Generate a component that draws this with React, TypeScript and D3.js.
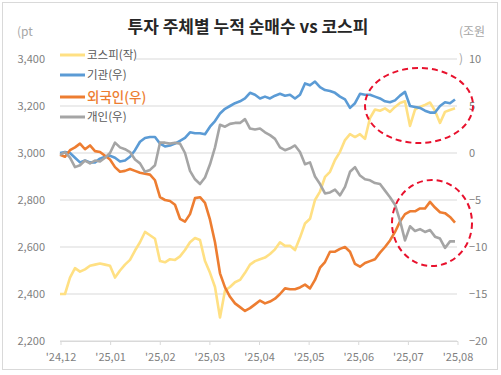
import React from 'react';
import * as d3 from 'd3';

const months = ["'24,12", "'25,01", "'25,02", "'25,03", "'25,04", "'25,05", "'25,06", "'25,07", "'25,08"];
const leftTicks = [2200, 2400, 2600, 2800, 3000, 3200, 3400];
const rightTicks = [-20, -15, -10, -5, 0, 5, 10];

const seriesNames = ['코스피(작)', '기관(우)', '외국인(우)', '개인(우)'];

const kospi = [
  2400, 2400, 2470, 2510, 2495, 2505, 2520, 2525, 2530, 2525,
  2520, 2470, 2500, 2525, 2545, 2585, 2620, 2664, 2650, 2635,
  2540, 2535, 2548, 2545, 2560, 2587, 2620, 2638, 2630, 2540,
  2490, 2430, 2300, 2415, 2430, 2450, 2460, 2490, 2525, 2540,
  2548, 2555, 2570, 2590, 2620, 2605, 2605, 2587, 2640, 2700,
  2720, 2800, 2836, 2898, 2920, 2970, 3005, 3055, 3080, 3068,
  3080, 3060, 3149, 3185, 3180, 3190, 3175, 3196, 3213, 3220,
  3115, 3185, 3196, 3205, 3215, 3180, 3128, 3175, 3183, 3190,
];

const institution = [
  0, 0.1, 0, -0.5, -1.0, -0.8, -1.0, -1.0, -0.6, -0.4,
  -0.3, -0.5, -0.9, -0.8, -0.4, 0.3, 1.2, 1.6, 1.7, 1.7,
  1.0, 0.7, 0.8, 1.0, 1.3, 1.6, 2.2, 2.1, 2.1, 2.0,
  2.8, 3.4, 4.2, 4.7, 5.0, 5.3, 5.5, 5.8, 6.4, 6.2,
  5.8, 6.0, 5.8, 6.1, 6.3, 6.1, 6.2, 5.8, 6.2, 7.4,
  7.2, 7.6, 7.0, 6.7, 6.6, 6.4, 6.0, 5.7, 4.8, 5.3,
  6.3, 6.2, 6.2, 6.0, 5.8, 5.5, 5.4, 5.6, 6.1, 6.5,
  5.0, 4.9, 4.8, 4.5, 4.3, 4.3, 5.0, 5.4, 5.3, 5.7,
];

const foreigner = [
  -0.2, -0.4, 0.3, 0.6, 1.0, 0.4, 0.8, 0.2, 0.1, -0.3,
  -0.7, -1.5, -2.0, -1.9, -1.7, -1.9, -2.1, -2.2, -2.3, -2.9,
  -4.7, -5.0, -5.1, -5.5, -7.0, -7.3, -6.5, -4.8, -4.7, -5.3,
  -7.1, -9.5, -12.8, -14.3, -15.3, -16.0, -16.4, -16.8, -16.5, -16.1,
  -15.7, -16.0, -15.8, -15.5, -15.0, -14.4, -14.5, -14.5, -14.3, -14.0,
  -14.4, -13.5, -12.2, -11.6, -10.5, -10.5, -10.2, -10.0, -10.5, -11.8,
  -12.1, -11.7, -11.5, -11.3, -10.6, -10.0, -9.3, -8.4, -7.3, -6.5,
  -6.2, -6.2, -5.9, -5.9, -5.2, -5.8, -6.3, -6.4, -6.8, -7.4,
];

const individual = [
  -0.2, 0.1, -0.5, -1.5, -1.3, -0.8, -1.1, -0.8, -0.9, -0.5,
  0, 1.1, 0.6, 0.4, 0.1, -0.7, -1.1, -2.0, -1.8, -1.3,
  1.1, 1.1, 1.0, 1.1, 1.0, 0.0, -1.9, -2.8, -3.3, -2.6,
  -1.2, 0.6, 3.0, 2.8, 3.1, 3.2, 3.2, 3.6, 2.6, 2.5,
  2.6, 2.2, 1.9, 1.5, 0.6, 0.3, 0.5, 0.8, 0.1, -1.2,
  -1.0, -2.5, -3.3, -4.3, -4.2, -3.9, -4.5, -3.6, -2.0, -1.5,
  -2.4, -2.8, -2.9, -3.2, -3.3, -4.0, -4.7, -5.5, -7.2, -9.3,
  -7.8, -8.3, -8.1, -8.4, -8.2, -8.9, -9.1, -10.1, -9.4, -9.4,
];

const FONT = "'Noto Sans CJK KR', 'Noto Sans', sans-serif";
const COLORS = ['#FFE083', '#5B9BD5', '#ED7D31', '#A5A5A5'];

export default function App() {
  const W = 501;
  const H = 375;
  const x = d3.scaleLinear().domain([0, kospi.length - 1]).range([60, 455]);
  const xm = d3.scalePoint<string>().domain(months).range([61, 458]);
  const yl = d3.scaleLinear().domain([2200, 3400]).range([341, 59]);
  const yr = d3.scaleLinear().domain([-20, 10]).range([341, 59]);
  const lineL = d3.line<number>().x((_, i) => x(i)).y((d) => yl(d));
  const lineR = d3.line<number>().x((_, i) => x(i)).y((d) => yr(d));
  const fmt = d3.format(',');

  const rightSeries = [institution, foreigner, individual];

  const legendRows = [
    { y: 55, size: 11.5, color: '#595959', weight: 400 },
    { y: 75, size: 11.5, color: '#595959', weight: 400 },
    { y: 97, size: 13.5, color: '#ED7D31', weight: 500 },
    { y: 117, size: 11.5, color: '#595959', weight: 400 },
  ];

  return (
    <svg width={W} height={H} style={{ position: 'absolute', left: 0, top: 0, background: '#fff' }} fontFamily={FONT}>
      <rect x={0} y={0} width={W} height={H} fill="#fff" />
      <rect x={2.5} y={2.5} width={495} height={367} fill="none" stroke="#d9d9d9" strokeWidth={1} />
      <text x={248} y={33} textAnchor="middle" fontSize={17} fontWeight={700} fill="#262626">
        투자 주체별 누적 순매수 vs 코스피
      </text>
      <text x={17} y={36} fontSize={12} fill="#a6a6a6">(pt</text>
      <text x={459} y={36} fontSize={12} fill="#a6a6a6">(조원</text>
      <text x={459} y={63} fontSize={12} fill="#a6a6a6">)</text>

      {leftTicks.map((t) => (
        <line key={'g' + t} x1={60} x2={457} y1={yl(t)} y2={yl(t)} stroke="#d9d9d9" strokeWidth={1} />
      ))}
      {leftTicks.map((t) => (
        <text key={'l' + t} x={45} y={yl(t) + 4} textAnchor="end" fontSize={11} fill="#7f7f7f">
          {fmt(t)}
        </text>
      ))}
      {rightTicks.map((t) => (
        <text key={'r' + t} x={469} y={yr(t) + 4} fontSize={11} fill="#7f7f7f">
          {t < 0 ? '\u2212' + Math.abs(t) : String(t)}
        </text>
      ))}
      <line x1={60} x2={458} y1={341.5} y2={341.5} stroke="#d9d9d9" />
      {months.map((m) => (
        <g key={m}>
          <line x1={xm(m)} x2={xm(m)} y1={341.5} y2={345} stroke="#d9d9d9" />
          <text x={xm(m)} y={361} textAnchor="middle" fontSize={11} fill="#7f7f7f">{m}</text>
        </g>
      ))}

      <path d={lineL(kospi) || ''} fill="none" stroke={COLORS[0]} strokeWidth={2.6} strokeLinejoin="round" />
      {rightSeries.map((s, k) => (
        <path key={k} d={lineR(s) || ''} fill="none" stroke={COLORS[k + 1]} strokeWidth={2.6} strokeLinejoin="round" />
      ))}

      {seriesNames.map((name, i) => {
        const r = legendRows[i];
        return (
          <g key={name}>
            <rect x={58} y={r.y - 8} width={i === 2 ? 84 : 78} height={16} fill="#fff" />
            <line x1={60} x2={85} y1={r.y} y2={r.y} stroke={COLORS[i]} strokeWidth={3} />
            <text x={87} y={r.y + r.size * 0.38} fontSize={r.size} fill={r.color} fontWeight={r.weight}>
              {name}
            </text>
          </g>
        );
      })}

      <ellipse cx={419} cy={105.5} rx={54} ry={37.5} fill="none" stroke="#E8112D" strokeWidth={2} strokeDasharray="6,4" />
      <ellipse cx={432} cy={223} rx={40} ry={43} fill="none" stroke="#E8112D" strokeWidth={2} strokeDasharray="6,4" />
    </svg>
  );
}
